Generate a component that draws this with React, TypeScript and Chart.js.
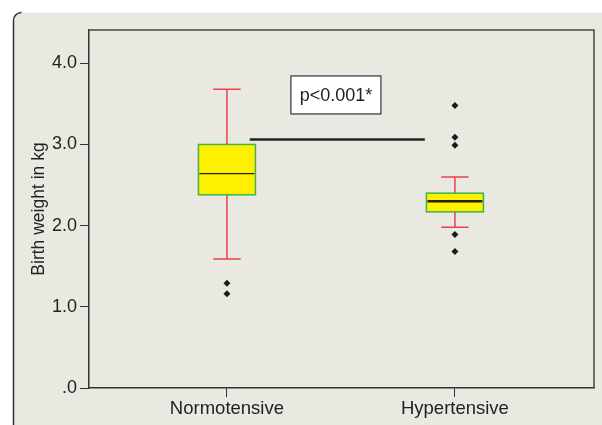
import React, { useEffect, useRef } from "react";
import { Chart, registerables } from "chart.js";

Chart.register(...registerables);

// ---- data ----
const categories = ["Normotensive", "Hypertensive"];
const whiskerLow = [1.59, 1.98];
const q1 = [2.38, 2.17];
const median = [2.64, 2.3];
const q3 = [3.0, 2.4];
const whiskerHigh = [3.68, 2.6];
const outliersNormo = [1.29, 1.16];
const outliersHyper = [3.48, 3.09, 2.99, 1.89, 1.68];
const outliers = [outliersNormo, outliersHyper];
const yTickValues = [0, 1, 2, 3, 4];
const yTickLabels = [".0", "1.0", "2.0", "3.0", "4.0"];
const sigLineX = [1.1, 1.868];
const sigLineY = 3.06;
const pText = "p<0.001*";
const pBoxPos = { x: 1.478, y: 3.61 };

// ---- styles ----
const FONT = "'Liberation Sans', Arial, sans-serif";
const PANEL = "#EAE9E1";
const DARK = "#333333";
const BOX_FILL = "#FFF000";
const BOX_EDGE = "#3DB54A";
const WHISKER = "#E8434E";
const BOX_HALF = 0.125;
const CAP_HALF = 0.06;
const MEDIAN_WIDTHS = [1.2, 2.6];

const panelPlugin = {
  id: "panel",
  beforeDraw(chart: any) {
    const ctx = chart.ctx;
    const w = chart.width;
    const h = chart.height;
    ctx.save();
    ctx.fillStyle = "#ffffff";
    ctx.fillRect(0, 0, w, h);
    const x0 = 13.5, y0 = 12.5, r = 8;
    ctx.beginPath();
    ctx.moveTo(x0, h + 5);
    ctx.lineTo(x0, y0 + r);
    ctx.arcTo(x0, y0, x0 + r, y0, r);
    ctx.lineTo(w + 5, y0);
    ctx.lineTo(w + 5, h + 5);
    ctx.closePath();
    ctx.fillStyle = PANEL;
    ctx.fill();
    ctx.beginPath();
    ctx.moveTo(x0, h + 5);
    ctx.lineTo(x0, y0 + r);
    ctx.arcTo(x0, y0, x0 + r, y0, r);
    ctx.strokeStyle = DARK;
    ctx.lineWidth = 1.5;
    ctx.stroke();
    ctx.restore();
  },
};

const boxPlugin = {
  id: "boxes",
  beforeDatasetsDraw(chart: any) {
    const ctx = chart.ctx;
    const xs = chart.scales.x;
    const ys = chart.scales.y;
    const area = chart.chartArea;
    ctx.save();
    // frame top/right
    ctx.strokeStyle = "#444";
    ctx.lineWidth = 1.5;
    ctx.beginPath();
    ctx.moveTo(area.left, area.top);
    ctx.lineTo(area.right, area.top);
    ctx.lineTo(area.right, area.bottom);
    ctx.stroke();

    categories.forEach((_, i) => {
      const cx = xs.getPixelForValue(i + 1);
      const bl = xs.getPixelForValue(i + 1 - BOX_HALF);
      const br = xs.getPixelForValue(i + 1 + BOX_HALF);
      const cl = xs.getPixelForValue(i + 1 - CAP_HALF);
      const cr = xs.getPixelForValue(i + 1 + CAP_HALF);
      const yLo = ys.getPixelForValue(whiskerLow[i]);
      const yQ1 = ys.getPixelForValue(q1[i]);
      const yMed = ys.getPixelForValue(median[i]);
      const yQ3 = ys.getPixelForValue(q3[i]);
      const yHi = ys.getPixelForValue(whiskerHigh[i]);

      ctx.strokeStyle = WHISKER;
      ctx.lineWidth = 1.5;
      ctx.beginPath();
      ctx.moveTo(cx, yLo);
      ctx.lineTo(cx, yQ1);
      ctx.moveTo(cx, yQ3);
      ctx.lineTo(cx, yHi);
      ctx.moveTo(cl, yLo);
      ctx.lineTo(cr, yLo);
      ctx.moveTo(cl, yHi);
      ctx.lineTo(cr, yHi);
      ctx.stroke();

      ctx.fillStyle = BOX_FILL;
      ctx.fillRect(bl, yQ3, br - bl, yQ1 - yQ3);
      ctx.strokeStyle = BOX_EDGE;
      ctx.lineWidth = 1.5;
      ctx.strokeRect(bl, yQ3, br - bl, yQ1 - yQ3);

      ctx.strokeStyle = "#222";
      ctx.lineWidth = MEDIAN_WIDTHS[i];
      ctx.beginPath();
      ctx.moveTo(bl + 1, yMed);
      ctx.lineTo(br - 1, yMed);
      ctx.stroke();
    });
    ctx.restore();
  },
  afterDatasetsDraw(chart: any) {
    const ctx = chart.ctx;
    const xs = chart.scales.x;
    const ys = chart.scales.y;
    const px = xs.getPixelForValue(pBoxPos.x);
    const py = ys.getPixelForValue(pBoxPos.y);
    const bw = 90, bh = 38;
    ctx.save();
    ctx.fillStyle = "#ffffff";
    ctx.fillRect(px - bw / 2, py - bh / 2, bw, bh);
    ctx.strokeStyle = DARK;
    ctx.lineWidth = 1.2;
    ctx.strokeRect(px - bw / 2, py - bh / 2, bw, bh);
    ctx.fillStyle = "#222";
    ctx.font = `18px ${FONT}`;
    ctx.textAlign = "center";
    ctx.textBaseline = "middle";
    ctx.fillText(pText, px, py + 1);
    ctx.restore();
  },
};

export default function App() {
  const ref = useRef<HTMLCanvasElement | null>(null);
  useEffect(() => {
    if (!ref.current) return;
    const outlierPoints = outliers.flatMap((arr, i) => arr.map((v) => ({ x: i + 1, y: v })));
    const chart = new Chart(ref.current, {
      type: "scatter",
      data: {
        datasets: [
          {
            type: "scatter",
            label: "Outliers",
            data: outlierPoints,
            pointStyle: "rectRot",
            pointRadius: 3.5,
            backgroundColor: "#1a1a1a",
            borderWidth: 0,
          },
          {
            type: "line",
            label: "Significance",
            data: [
              { x: sigLineX[0], y: sigLineY },
              { x: sigLineX[1], y: sigLineY },
            ],
            borderColor: "#222",
            borderWidth: 2.5,
            pointRadius: 0,
            showLine: true,
          } as any,
        ],
      },
      options: {
        responsive: false,
        animation: false,
        devicePixelRatio: 1,
        layout: { padding: { top: 30, right: 8, left: 0, bottom: 0 } },
        plugins: { legend: { display: false }, tooltip: { enabled: false } },
        scales: {
          x: {
            type: "linear",
            min: 0.395,
            max: 2.61,
            afterBuildTicks: (s: any) => {
              s.ticks = categories.map((_, i) => ({ value: i + 1 }));
            },
            afterFit: (s: any) => {
              s.height = 37;
            },
            ticks: {
              callback: (_v: any, i: number) => categories[i],
              font: { family: FONT, size: 18.5 },
              color: "#222",
              padding: 1,
              maxRotation: 0,
              autoSkip: false,
            },
            grid: { drawOnChartArea: false, drawTicks: true, tickLength: 9, color: DARK, lineWidth: 1 },
            border: { display: true, color: DARK, width: 1.5 },
          },
          y: {
            type: "linear",
            min: 0,
            max: 4.41,
            afterBuildTicks: (s: any) => {
              s.ticks = yTickValues.map((v) => ({ value: v }));
            },
            afterFit: (s: any) => {
              s.width = 89;
            },
            ticks: {
              callback: (_v: any, i: number) => yTickLabels[i],
              font: { family: FONT, size: 18 },
              color: "#222",
              padding: 3,
            },
            title: {
              display: true,
              text: "Birth weight in kg",
              font: { family: FONT, size: 17.5 },
              color: "#222",
              padding: { top: 29, bottom: 0 },
            },
            grid: { drawOnChartArea: false, drawTicks: true, tickLength: 9, color: DARK, lineWidth: 1 },
            border: { display: true, color: DARK, width: 1.5 },
          },
        },
      },
      plugins: [panelPlugin, boxPlugin],
    });
    return () => chart.destroy();
  }, []);
  return (
    <div style={{ position: "fixed", left: 0, top: 0, width: 602, height: 425, background: "#fff" }}>
      <canvas ref={ref} width={602} height={425} style={{ display: "block" }} />
    </div>
  );
}
